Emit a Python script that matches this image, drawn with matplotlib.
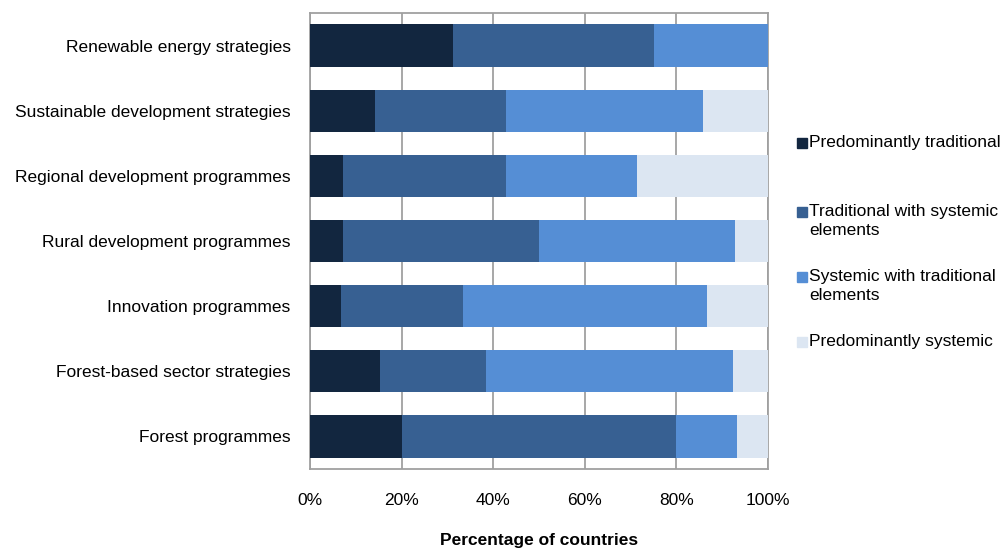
import matplotlib
matplotlib.use("Agg")
import matplotlib.pyplot as plt
from matplotlib.patches import Rectangle
import numpy as np

plt.rcParams['font.family'] = ['Liberation Sans', 'DejaVu Sans']

categories = [
    "Renewable energy strategies",
    "Sustainable development strategies",
    "Regional development programmes",
    "Rural development programmes",
    "Innovation programmes",
    "Forest-based sector strategies",
    "Forest programmes",
]
series_names = [
    "Predominantly traditional",
    "Traditional with systemic\nelements",
    "Systemic with traditional\nelements",
    "Predominantly systemic",
]
predominantly_traditional = [31.25, 14.29, 7.14, 7.14, 6.67, 15.38, 20.00]
traditional_with_systemic = [43.75, 28.57, 35.71, 42.86, 26.67, 23.08, 60.00]
systemic_with_traditional = [25.00, 42.86, 28.57, 42.86, 53.33, 53.85, 13.33]
predominantly_systemic = [0.00, 14.29, 28.57, 7.14, 13.33, 7.69, 6.67]
colors = ["#12263F", "#376092", "#558ED5", "#DCE6F2"]
xticks = [0, 20, 40, 60, 80, 100]
xtick_labels = ["0%", "20%", "40%", "60%", "80%", "100%"]

series = [predominantly_traditional, traditional_with_systemic,
          systemic_with_traditional, predominantly_systemic]

W, H = 1003, 549
FS = 12.5
fig = plt.figure(figsize=(W / 100, H / 100), dpi=100)
ax = fig.add_axes([310 / W, 1 - 469 / H, 458 / W, 456 / H])

y = np.arange(len(categories))
left = np.zeros(len(categories))
for vals, col, name in zip(series, colors, series_names):
    ax.barh(y, vals, left=left, height=0.65, color=col, edgecolor='none',
            label=name, zorder=3)
    left += np.array(vals)

ax.set_xlim(0, 100)
ax.set_ylim(len(categories) - 0.5, -0.5)
ax.set_yticks(y)
ax.set_yticklabels(categories, fontsize=FS)
ax.set_xticks(xticks)
ax.set_xticklabels(xtick_labels, fontsize=FS)
ax.tick_params(axis='both', length=0)
ax.tick_params(axis='x', pad=17)
ax.tick_params(axis='y', pad=14)
ax.grid(axis='x', color='#A0A0A0', linewidth=1.3, zorder=0)
for s in ax.spines.values():
    s.set_color('#A0A0A0')
    s.set_linewidth(1.3)

fig.text(539 / W, 1 - 540 / H, "Percentage of countries", fontsize=FS,
         fontweight='bold', ha='center', va='center')

# legend drawn as square markers next to the labels
legend_y = [143, 212, 277, 342]
for ly, col, name in zip(legend_y, colors, series_names):
    fig.patches.append(Rectangle((797 / W, 1 - (ly + 5) / H), 10 / W, 10 / H,
                                 transform=fig.transFigure, color=col,
                                 figure=fig))
    fig.text(809 / W, 1 - (ly - 8) / H, name, fontsize=FS, va='top',
             ha='left', linespacing=1.3)

fig.savefig("out.png", dpi=100)
